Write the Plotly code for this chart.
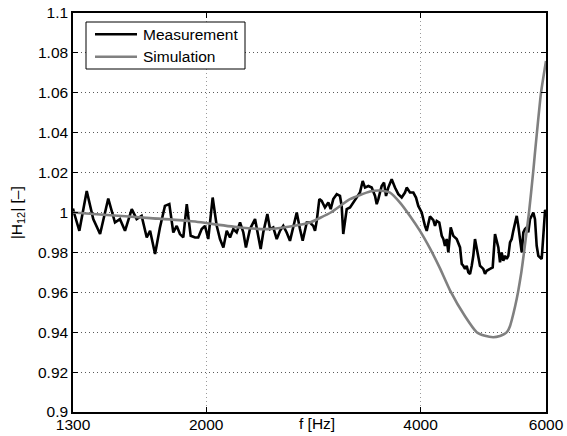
import plotly.graph_objects as go

# ---- data ----
meas_f = [1300, 1304, 1327, 1359, 1388, 1419, 1457, 1489, 1513, 1538, 1572, 1597, 1623, 1650, 1668,
          1695, 1722, 1750, 1775, 1798, 1818, 1837, 1857, 1878, 1902, 1929, 1949, 1971, 1992,
          2013, 2042, 2069, 2091, 2114, 2137, 2160, 2183, 2207, 2231, 2255, 2274, 2304, 2342,
          2367, 2385, 2405, 2437, 2458, 2484, 2512, 2539, 2566, 2594, 2622, 2650, 2680, 2708,
          2732, 2768, 2797, 2827, 2843, 2859, 2883, 2905, 2936, 2968, 2991, 3016, 3050, 3082,
          3099, 3115, 3133, 3150, 3184, 3218, 3253, 3288, 3317, 3342, 3378, 3415, 3452, 3471,
          3489, 3527, 3554, 3577, 3603, 3643, 3682, 3722, 3763, 3803, 3824, 3865, 3907, 3941,
          3970, 4014, 4057, 4080, 4123, 4168, 4191, 4214, 4249, 4283, 4305, 4328, 4352, 4375,
          4409, 4446, 4495, 4544, 4569, 4592, 4618, 4643, 4667, 4693, 4719, 4743, 4769, 4796,
          4820, 4847, 4874, 4899, 4926, 4953, 5006, 5050, 5088, 5116, 5143, 5171, 5199, 5226,
          5255, 5284, 5312, 5341, 5370, 5398, 5428, 5458, 5486, 5516, 5547, 5576, 5606, 5637,
          5666, 5698, 5729, 5759, 5790, 5822, 5853, 5885, 5917, 5948, 5981, 6000]
meas_h = [1.002, 1.000, 0.9908, 1.0108, 0.9967, 0.9892, 1.0070, 0.9950, 0.9967, 0.9908, 1.0017,
          0.9967, 0.9983, 0.9875, 0.9908, 0.9792, 0.9925, 1.0033, 1.0042, 0.9900, 0.9933, 0.9892,
          0.9875, 1.0042, 0.9883, 0.9875, 0.9875, 0.9917, 0.9933, 0.9867, 1.0075, 0.9933, 0.9867,
          0.9825, 0.9908, 0.9875, 0.9917, 0.9900, 0.9950, 0.9900, 0.9825, 0.9917, 0.9967, 0.9883,
          0.9817, 0.9900, 0.9992, 0.9917, 0.9925, 0.9867, 0.9908, 0.9933, 0.9900, 0.9858, 0.9933,
          1.0000, 0.9917, 0.9858, 0.9950, 0.9950, 0.9933, 0.9908, 0.9958, 1.0067, 1.0058, 1.0025,
          1.0050, 1.0017, 1.0067, 1.0092, 1.0083, 1.0033, 0.9892, 0.9950, 1.0017, 1.0025, 1.0050,
          1.0075, 1.0100, 1.0158, 1.0125, 1.0133, 1.0125, 1.0083, 1.0042, 1.0067, 1.0133, 1.0150,
          1.0083, 1.0125, 1.0167, 1.0125, 1.0092, 1.0075, 1.0100, 1.0125, 1.0100, 1.0100, 1.0075,
          1.0033, 1.0000, 0.9933, 0.9908, 0.9980, 0.9962, 0.9933, 0.9958, 0.9950, 0.9883, 0.9867,
          0.9833, 0.9867, 0.9800, 0.9925, 0.9883, 0.9867, 0.9825, 0.9742, 0.9733, 0.9717, 0.9733,
          0.9700, 0.9692, 0.9733, 0.9783, 0.9867, 0.9825, 0.9775, 0.9733, 0.9725, 0.9717, 0.9692,
          0.9708, 0.9717, 0.9725, 0.9892, 0.9858, 0.9825, 0.9750, 0.9800, 0.9758, 0.9783, 0.9767,
          0.9783, 0.9850, 0.9867, 0.9908, 0.9942, 0.9983, 0.9933, 0.9867, 0.9800, 0.9900, 0.9917,
          0.9925, 0.9900, 0.9967, 0.9983, 1.0000, 0.9967, 0.9833, 0.9783, 0.9775, 0.9767, 0.9883,
          1.0008, 1.0010]

sim_f = [1300, 1419, 1668, 1898, 2231, 2458, 2622, 2797, 2991, 3184, 3396, 3508, 3623, 3742,
         3865, 3992, 4123, 4259, 4399, 4618, 4796, 4926, 5060, 5171, 5240, 5298, 5340, 5375,
         5430, 5481, 5540, 5588, 5679, 5759, 5790, 5904, 6000]
sim_h = [1.0000, 0.9990, 0.9972, 0.9957, 0.9925, 0.9917, 0.9930, 0.9950, 1.0000, 1.0067, 1.0105,
         1.0110, 1.0100, 1.0050, 0.9983, 0.9908, 0.9820, 0.9720, 0.9610, 0.9480, 0.9400, 0.9382,
         0.9375, 0.9381, 0.9390, 0.9405, 0.9430, 0.9465, 0.9530, 0.9600, 0.9700, 0.9800, 1.0000,
         1.0210, 1.0300, 1.0600, 1.0760]

x_ticks = [1300, 2000, 4000, 6000]
x_ticktext = ["1300", "2000", "4000", "6000"]
y_ticks = [0.9, 0.92, 0.94, 0.96, 0.98, 1.0, 1.02, 1.04, 1.06, 1.08, 1.1]
y_ticktext = ["0.9", "0.92", "0.94", "0.96", "0.98", "1", "1.02", "1.04", "1.06", "1.08", "1.1"]

series_names = ["Measurement", "Simulation"]
series_colors = ["black", "#808080"]

FONT = "Liberation Sans, Arial, Helvetica, sans-serif"
FS = 15.5
LW = 2.6

fig = go.Figure()
fig.add_trace(go.Scatter(x=meas_f, y=meas_h, mode="lines", name=series_names[0],
                         line=dict(color=series_colors[0], width=LW)))
fig.add_trace(go.Scatter(x=sim_f, y=sim_h, mode="lines", name=series_names[1],
                         line=dict(color=series_colors[1], width=LW, shape="spline", smoothing=0.5)))

axis_common = dict(showline=True, linecolor="black", linewidth=1.5, mirror="ticks",
                   ticks="inside", ticklen=5, tickcolor="black", tickwidth=1,
                   showgrid=True, gridwidth=1, zeroline=False,
                   tickfont=dict(family=FONT, size=FS, color="black"))

fig.update_xaxes(type="log", range=[3.11394, 3.77815], tickvals=x_ticks, ticktext=x_ticktext,
                 gridcolor="#9a9a9a", griddash="1px,3px", automargin=False,
                 ticklabelstandoff=-2, **axis_common)
fig.update_yaxes(range=[0.9, 1.1], tickvals=y_ticks, ticktext=y_ticktext,
                 gridcolor="#5a5a5a", griddash="1px,3px", automargin=False, **axis_common)

# plot area in pixels: left 73, right 546, top 13, bottom 412
def px_x(p):
    return (p - 73) / 473.0

def px_y(p):
    return (412 - p) / 399.0

shapes = [
    dict(type="rect", xref="paper", yref="paper", x0=px_x(86), x1=px_x(245), y0=px_y(69), y1=px_y(22),
         line=dict(color="black", width=1), fillcolor="white", layer="above"),
]
annotations = [
    dict(text="f [Hz]", xref="paper", yref="paper", x=0.516, y=-0.0288,
         xanchor="center", yanchor="middle", showarrow=False,
         font=dict(family=FONT, size=FS, color="black")),
    dict(text="|H<sub>12</sub>| [–]", xref="paper", yref="paper", x=-0.117, y=0.5,
         xanchor="center", yanchor="middle", textangle=-90, showarrow=False,
         font=dict(family=FONT, size=FS, color="black")),
]
for i, (nm, col) in enumerate(zip(series_names, series_colors)):
    yy = 34.3 + 22.4 * i
    shapes.append(dict(type="line", xref="paper", yref="paper", x0=px_x(95), x1=px_x(137),
                       y0=px_y(yy), y1=px_y(yy), line=dict(color=col, width=LW), layer="above"))
    annotations.append(dict(text=nm, xref="paper", yref="paper", x=px_x(141), y=px_y(yy),
                            xanchor="left", yanchor="middle", showarrow=False,
                            font=dict(family=FONT, size=FS, color="black")))

fig.update_layout(
    width=567, height=436,
    margin=dict(l=73, r=21, t=13, b=24),
    paper_bgcolor="white", plot_bgcolor="white",
    font=dict(family=FONT, size=FS, color="black"),
    showlegend=False,
    shapes=shapes,
    annotations=annotations,
)

fig.write_html("out.html")
